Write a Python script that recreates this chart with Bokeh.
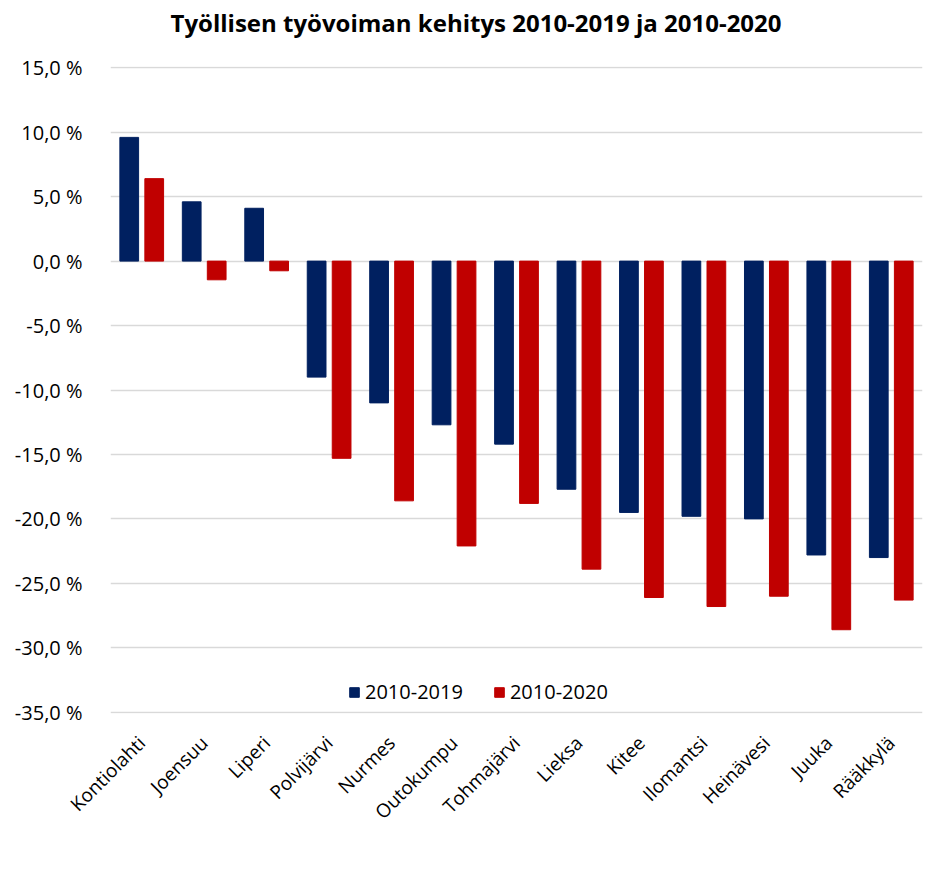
from bokeh.plotting import figure
from bokeh.models import (FactorRange, Range1d, FixedTicker, Legend, LegendItem, ColumnDataSource,
                          Title)
from bokeh.transform import dodge
from bokeh.embed import file_html
from bokeh.resources import INLINE
import math

categories = ["Kontiolahti", "Joensuu", "Liperi", "Polvijärvi", "Nurmes", "Outokumpu",
              "Tohmajärvi", "Lieksa", "Kitee", "Ilomantsi", "Heinävesi", "Juuka", "Rääkkylä"]
v2019 = [9.6, 4.6, 4.1, -9.0, -11.0, -12.7, -14.2, -17.7, -19.5, -19.8, -20.0, -22.8, -23.0]
v2020 = [6.4, -1.45, -0.75, -15.3, -18.6, -22.1, -18.8, -23.9, -26.1, -26.8, -26.0, -28.6, -26.3]
y_ticks = [-35, -30, -25, -20, -15, -10, -5, 0, 5, 10, 15]
series_names = ["2010-2019", "2010-2020"]
title_text = "Työllisen työvoiman kehitys 2010-2019 ja 2010-2020"

BLUE = "#002060"
RED = "#C00000"
FONT = "Open Sans"

src = ColumnDataSource(dict(cat=categories, a=v2019, b=v2020))

p = figure(x_range=FactorRange(*categories, range_padding=0),
           y_range=Range1d(-35.1, 15.1),
           width=927, height=873, output_backend="svg", toolbar_location=None,
           min_border_left=110, min_border_right=5, min_border_top=66, min_border_bottom=160)

r1 = p.vbar(x=dodge("cat", -0.2, range=p.x_range), top="a", width=0.3, source=src,
            fill_color=BLUE, line_color=BLUE)
r2 = p.vbar(x=dodge("cat", 0.2, range=p.x_range), top="b", width=0.3, source=src,
            fill_color=RED, line_color=RED)

p.title.text = title_text
p.title.align = "left"
p.title.offset = 60
p.title.text_font = FONT
p.title.text_font_style = "bold"
p.title.text_font_size = "24px"
p.title.text_color = "#000000"
p.title.standoff = 0
# blank title between the main title and the frame, for spacing
p.add_layout(Title(text=" ", text_font_size="20px", standoff=4), "above")

p.outline_line_color = None
p.xgrid.grid_line_color = None
p.ygrid.grid_line_color = "#d9d9d9"
p.ygrid.grid_line_width = 1.5
p.ygrid.ticker = FixedTicker(ticks=y_ticks)

p.yaxis.ticker = FixedTicker(ticks=y_ticks)
p.yaxis.major_label_overrides = {t: ("%.1f" % t).replace(".", ",") + " %" for t in y_ticks}
p.yaxis.axis_line_color = None
p.yaxis.major_tick_line_color = None
p.yaxis.minor_tick_line_color = None
p.yaxis.major_label_standoff = 22
p.yaxis.major_label_text_font = FONT
p.yaxis.major_label_text_font_size = "20px"
p.yaxis.major_label_text_color = "#000000"

p.xaxis.axis_line_color = None
p.xaxis.major_tick_line_color = None
p.xaxis.minor_tick_line_color = None
p.xaxis.major_label_orientation = math.pi / 4
p.xaxis.major_label_standoff = 20
p.xaxis.major_label_text_font = FONT
p.xaxis.major_label_text_font_size = "19px"
p.xaxis.major_label_text_color = "#000000"

legend = Legend(items=[LegendItem(label=series_names[0], renderers=[r1]),
                       LegendItem(label=series_names[1], renderers=[r2])],
                orientation="horizontal", location=(238, 8),
                glyph_width=12, glyph_height=12, label_standoff=5, spacing=30,
                padding=0, margin=0, border_line_color=None, background_fill_alpha=0,
                label_text_font=FONT, label_text_font_size="20px", label_text_color="#000000",
                label_height=20)
p.add_layout(legend, "center")

open("out.html", "w").write(file_html(p, INLINE))
